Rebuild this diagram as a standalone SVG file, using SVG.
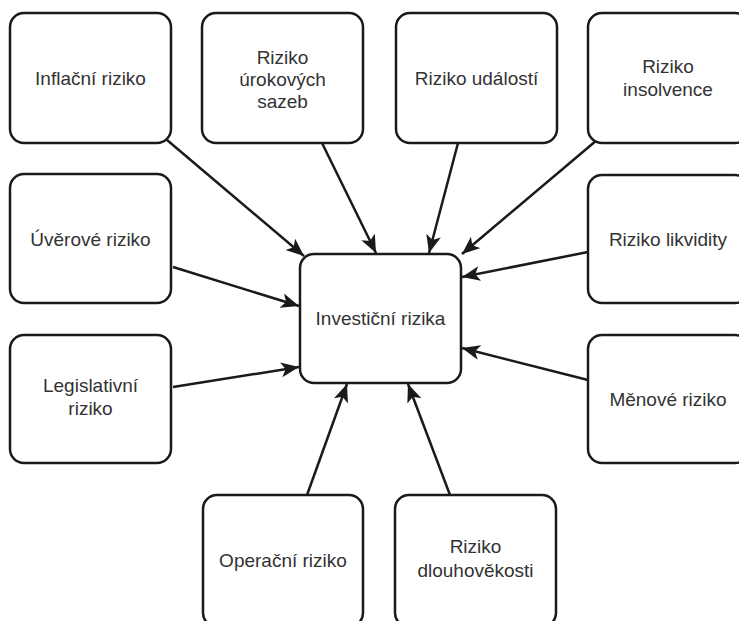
<svg xmlns="http://www.w3.org/2000/svg" width="739" height="621" viewBox="0 0 739 621">
<style>
.box{fill:#fff;stroke:#1a1a1a;stroke-width:2.5}
.lbl{font-family:"Liberation Sans",Arial,sans-serif;font-size:19px;fill:#333;text-anchor:middle}
.edge{stroke:#1a1a1a;stroke-width:2.5;fill:none;marker-end:url(#arr)}
</style>
<defs>
<marker id="arr" markerUnits="userSpaceOnUse" markerWidth="20" markerHeight="16" refX="18" refY="7.5" orient="auto">
<path d="M0,0 L18,7.5 L0,15 L4.5,7.5 Z" fill="#1a1a1a"/>
</marker>
</defs>
<rect width="739" height="621" fill="#fff"/>
<g id="connectors">
<line class="edge" x1="167" y1="140" x2="304" y2="256"/>
<line class="edge" x1="322" y1="143" x2="376" y2="253"/>
<line class="edge" x1="458" y1="143" x2="429" y2="253"/>
<line class="edge" x1="597" y1="140" x2="462" y2="254"/>
<line class="edge" x1="588" y1="252" x2="462" y2="277"/>
<line class="edge" x1="588" y1="380" x2="462" y2="348"/>
<line class="edge" x1="173" y1="267" x2="299" y2="306"/>
<line class="edge" x1="173" y1="387" x2="299" y2="367"/>
<line class="edge" x1="307" y1="495" x2="347" y2="384"/>
<line class="edge" x1="450" y1="495" x2="408" y2="384"/>
</g>
<g id="n-inflacni"><rect class="box" x="10" y="13" width="161" height="130" rx="14"/><text class="lbl" x="90.5" y="85">Inflační riziko</text></g>
<g id="n-urokovych"><rect class="box" x="202" y="13" width="161" height="130" rx="14"/><text class="lbl" x="282.5" y="64">Riziko</text><text class="lbl" x="282.5" y="86">úrokových</text><text class="lbl" x="282.5" y="108">sazeb</text></g>
<g id="n-udalosti"><rect class="box" x="396" y="13" width="161" height="130" rx="14"/><text class="lbl" x="476.5" y="85">Riziko událostí</text></g>
<g id="n-insolvence"><rect class="box" x="588" y="13" width="161" height="130" rx="14"/><text class="lbl" x="668" y="73">Riziko</text><text class="lbl" x="668" y="96">insolvence</text></g>
<g id="n-uverove"><rect class="box" x="10" y="174" width="161" height="129" rx="14"/><text class="lbl" x="90.5" y="246">Úvěrové riziko</text></g>
<g id="n-likvidity"><rect class="box" x="588" y="175" width="161" height="128" rx="14"/><text class="lbl" x="668" y="246">Riziko likvidity</text></g>
<g id="n-investicni"><rect class="box" x="300" y="254" width="161" height="129" rx="14"/><text class="lbl" x="380.5" y="325">Investiční rizika</text></g>
<g id="n-legislativni"><rect class="box" x="10" y="335" width="161" height="128" rx="14"/><text class="lbl" x="90.5" y="392">Legislativní</text><text class="lbl" x="90.5" y="415">riziko</text></g>
<g id="n-menove"><rect class="box" x="588" y="335" width="161" height="128" rx="14"/><text class="lbl" x="668" y="406">Měnové riziko</text></g>
<g id="n-operacni"><rect class="box" x="203" y="495" width="160" height="132" rx="14"/><text class="lbl" x="283" y="567">Operační riziko</text></g>
<g id="n-dlouhovekosti"><rect class="box" x="395" y="495" width="161" height="132" rx="14"/><text class="lbl" x="475.5" y="553">Riziko</text><text class="lbl" x="475.5" y="577">dlouhověkosti</text></g>
</svg>
